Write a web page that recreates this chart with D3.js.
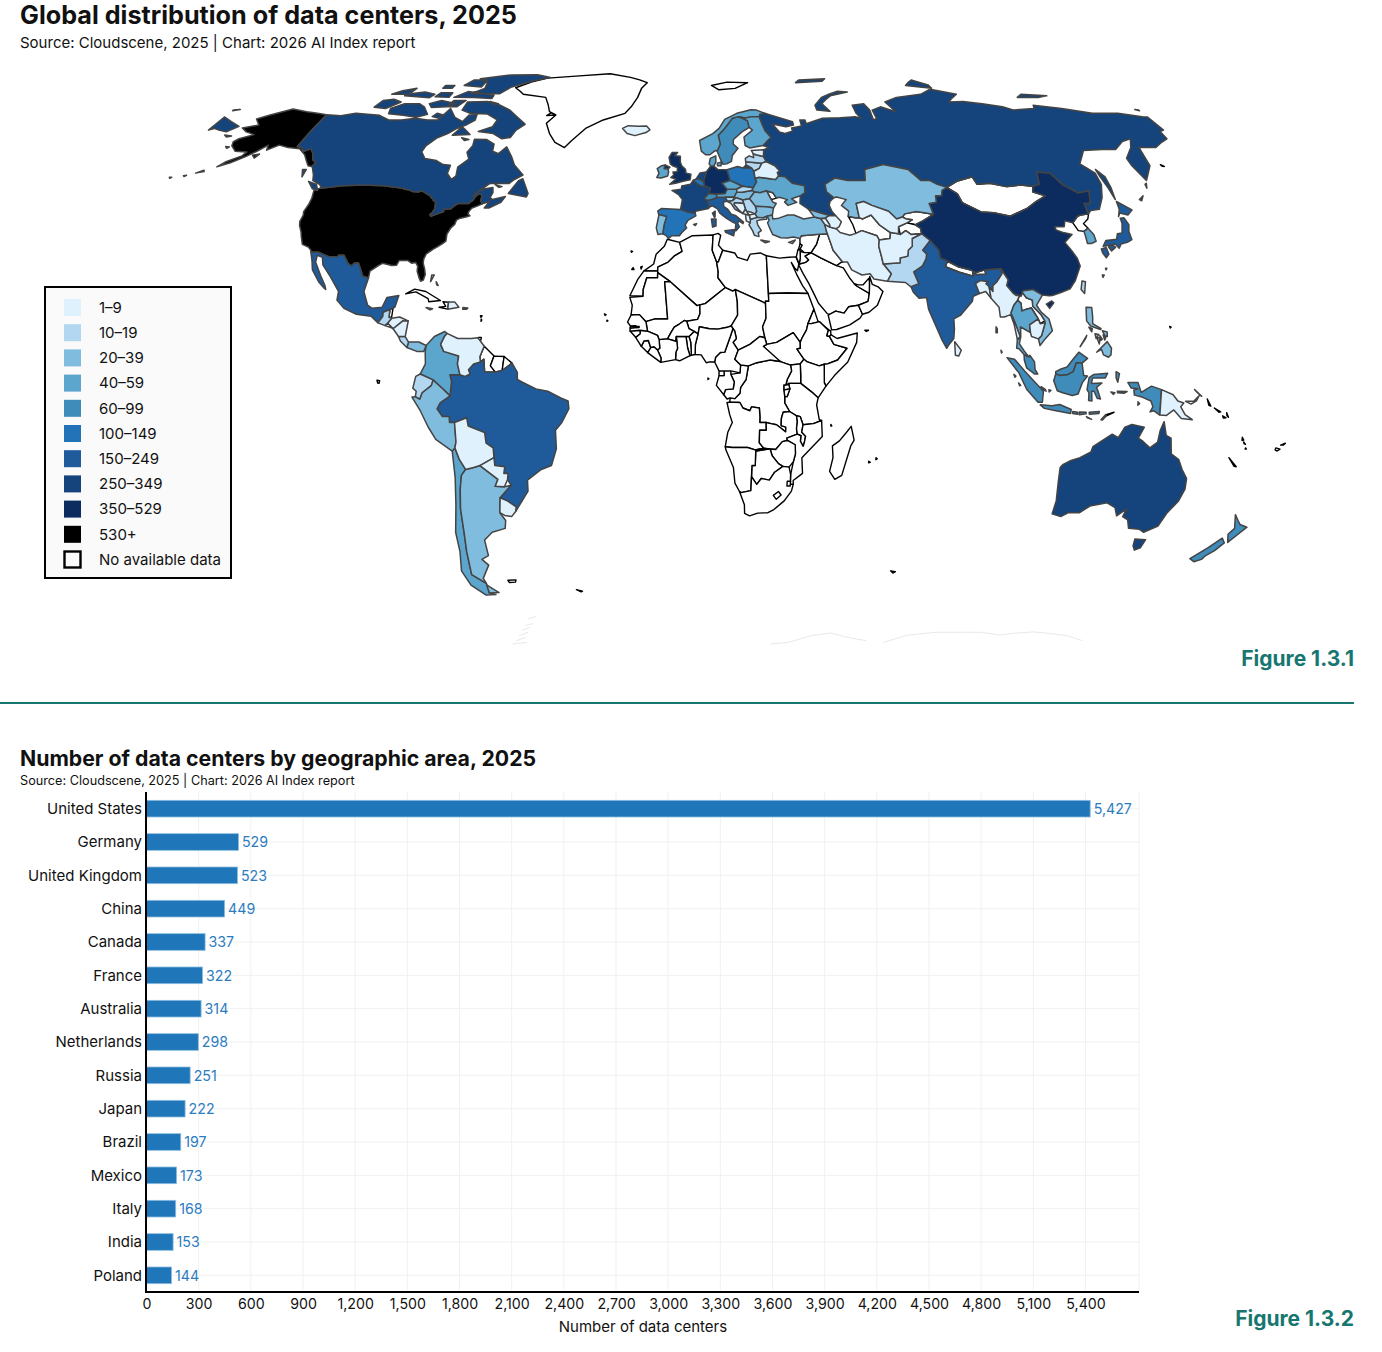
<!DOCTYPE html>
<html><head><meta charset="utf-8">
<script src="https://cdn.jsdelivr.net/npm/d3@7"></script>
<style>html,body{margin:0;padding:0;background:#fff}svg{display:block}text{font-family:Inter,"Noto Sans",sans-serif;fill:#111}</style>
</head><body><svg id="c" width="1382" height="1352"></svg>
<script>
// ---------- bar chart data ----------
const barCategories=["United States","Germany","United Kingdom","China","Canada","France","Australia","Netherlands","Russia","Japan","Brazil","Mexico","Italy","India","Poland"];
const barValues=[5427,529,523,449,337,322,314,298,251,222,197,173,168,153,144];
const xTicks=[0,300,600,900,1200,1500,1800,2100,2400,2700,3000,3300,3600,3900,4200,4500,4800,5100,5400];
// ---------- legend ----------
const binLabels=["1–9","10–19","20–39","40–59","60–99","100–149","150–249","250–349","350–529","530+"];
const binColors=["#dff1fd","#b4d7f1","#80bcde","#5ca6ce","#3f8bb9","#2273b8","#1f5a9a","#15447c","#0c2c5f","#000000"];
const noDataLabel="No available data";
// ---------- countries: [name, bin index (-1 = no data), lon,lat rings...] ----------
const noData=[
["Greenland",-1,"-73,78.2 -68,76 -58,75 -54,70.5 -51,69.5 -53.5,67 -51,64 -48,61.5 -44,60 -42,62 -38,65.5 -32,68 -24,70 -22,72 -20,75 -19,78 -17,80 -25,82 -35,83.5 -50,82.5 -62,81.7 -68,80.2","-54.5,69.3 -51.5,69.5 -53,70.2"],
["Svalbard",-1,"14,77.5 21,78 27,80 18,80.2 11,79"],
["Morocco",-1,"-5.9,35.8 -2,35 -1.2,32.7 -3.7,31.5 -5.5,30 -8.7,28.7 -8.7,27.7 -13,27.7 -10,29.5 -9.3,32 -6.8,34"],
["W Sahara",-1,"-13,27.7 -14.8,25.5 -17,21.4 -13,21.3 -13,23 -12,26 -8.7,26 -8.7,27.7"],
["Algeria",-1,"-2,35 2,36.7 8.6,36.9 8.2,33 9.5,30 9.9,27.5 9.8,26 12,23.5 5.8,19.4 4.2,19.1 3.3,18.9 -4.8,25 -8.7,27.3 -8.7,28.7 -5.5,30 -3.7,31.5 -1.2,32.7"],
["Tunisia",-1,"8.6,36.9 10.2,37.3 11,36.8 10.2,34.3 11.5,33 10,30 9.5,30 8.2,33"],
["Libya",-1,"10,30 11.5,33 15.2,32.3 16,31.2 19,30.4 20,32 23.2,32.3 25,31.6 25,22 25,20 24,20 24,19.5 15,23 14.2,22.6 12,23.5 9.8,26 9.9,27.5 9.5,30"],
["Egypt",-1,"25,31.6 29,31 32,31.2 34.2,31.3 34.9,29.5 34.3,27.8 33.5,28.5 32.6,29.9 33.9,27 35.5,24 37,22 25,22"],
["Mauritania",-1,"-17,21 -13,21.3 -13,23 -12,26 -8.7,26 -8.7,27.3 -4.8,25 -6.5,25 -5.5,15.5 -9.3,15.5 -12,14.8 -14,16.6 -16.5,16.5 -16.2,19"],
["Mali",-1,"-4.8,25 3.3,18.9 4.2,19.1 4.2,16.8 3.5,15.4 0.2,14.9 -0.5,15.1 -2,14.2 -3.5,13.4 -4.5,12 -5.5,10.4 -8,10.2 -8.5,11.3 -11.5,12.4 -12,14.8 -9.3,15.5 -5.5,15.5 -6.5,25"],
["Niger",-1,"4.2,19.1 5.8,19.4 12,23.5 14.2,22.6 15,23 15.5,20 15.5,16.5 13.5,13.7 12,13.3 9.5,12.9 7,13 4,13.5 3.6,11.7 2.4,12.3 0.9,13 0.2,14.9 3.5,15.4 4.2,16.8"],
["Chad",-1,"15,23 24,19.5 24,15.7 22.9,13.5 23.5,10.7 22,11 19,9 15.5,7.5 14,9.5 15,10.5 14.5,12.5 13.5,13.7 15.5,16.5 15.5,20"],
["Sudan",-1,"24,20 25,20 25,22 37,22 38.5,18 36.5,14.3 36,12.7 34.5,10.5 34,9.5 32,12 27,9.5 24,9 23.5,10.7 22.9,13.5 24,15.7"],
["South Sudan",-1,"24,9 27,9.5 32,12 34,9.5 34,8 33,7.8 35,5.2 33.9,4 31,3.7 28,4.6 25,5 23,8.5"],
["Eritrea",-1,"36.5,14.3 38.5,18 39.5,15 43,12.5 42.5,12.6 40,14.8 37.5,14.3"],
["Ethiopia",-1,"36,12.7 36.5,14.3 37.5,14.3 40,14.8 42.5,12.6 42,11.2 42.8,11 44,9 47.9,8 45,5 42,4 41,3.9 39.5,3.5 36,4.5 35,5.2 33,7.8 34,8 34,9.5 34.5,10.5"],
["Djibouti",-1,"42.5,12.6 43.2,12.5 43.2,11.5 42.8,11 42,11.2"],
["Somalia",-1,"43.2,11.5 45,10.5 51.1,11.9 50.8,9.5 48,4.5 44,1 41.5,-1.7 41,-0.8 41,3.9 42,4 45,5 47.9,8 44,9 42.8,11"],
["Kenya",-1,"33.9,4 35,5.2 36,4.5 39.5,3.5 41,3.9 41,-0.8 41.5,-1.7 39.2,-4.7 37.7,-3.5 34,-1 34,1"],
["Uganda",-1,"31,3.7 33.9,4 34,1 34,-1 30.5,-1 29.6,-1.4 30,0 31.3,2.2"],
["Tanzania",-1,"30.5,-1 34,-1 37.7,-3.5 39.2,-4.7 38.8,-6.5 39.7,-10.3 40.4,-10.5 38,-11.3 34.9,-11.6 34,-9.5 32.9,-9.3 30.8,-8.2 29.3,-6 29.3,-4.4 30,-4.4 30.8,-2.4 30.5,-1.3"],
["Rwanda",-1,"29,-1.4 30.5,-1.3 30.8,-2.4 29,-2.7"],
["Burundi",-1,"29,-2.7 30.8,-2.4 30,-4.4 29.3,-4.4"],
["DRC",-1,"12.2,-5.9 13,-5.8 13.1,-4.7 14.5,-4.9 16,-3.5 16.2,-2 17.8,0 18.5,3.5 21,4.3 25,5 28,4.6 31,3.7 31.3,2.2 30,0 29.6,-1.4 29,-1.4 29,-2.7 29.3,-4.4 29.3,-6 30.8,-8.2 28.9,-8.4 28.4,-10 28.4,-11.8 29.8,-12.2 29.8,-13.4 28.4,-12.5 27,-11.6 25.3,-11.3 23.9,-11 22,-11 22,-9.5 21.8,-7.3 19.5,-7 19,-8 16.9,-7.3 16,-5.9"],
["Congo",-1,"11.2,-3.9 12.2,-5 13.1,-4.7 14.5,-4.9 16,-3.5 16.2,-2 17.8,0 18.5,3.5 16.2,3.7 16,1.7 13.3,1.3 14.3,-0.6 14,-2.4 11.7,-2.6"],
["Gabon",-1,"9.8,1 11.3,1 11.3,2.2 13.3,2.2 13.3,1.3 14.3,-0.6 14,-2.4 11.7,-2.6 11.2,-3.9 9,-1.5"],
["Eq Guinea",-1,"9.8,1 11.3,1 11.3,2.2 9.8,2.2"],
["Cameroon",-1,"8.5,4.5 9.8,2.2 11.3,2.2 13.3,2.2 16,1.7 16.2,3.7 14.5,5.2 15.5,7.5 14,9.5 15,10.5 14.5,12.5 14,13 13.2,11 11.5,7 10.2,6.9 8.8,5.7"],
["CAR",-1,"14.5,5.2 16.2,3.7 18.5,3.5 21,4.3 25,5 28,4.6 23,8.5 24,9 23.5,10.7 22,11 19,9 15.5,7.5"],
["Nigeria",-1,"2.7,6.4 4.5,6.3 6,4.3 7,4.5 8.5,4.5 8.8,5.7 10.2,6.9 11.5,7 13.2,11 14,13 13.5,13.7 12,13.3 9.5,12.9 7,13 4,13.5 3.6,11.7 2.8,9"],
["Benin",-1,"1.6,6.2 2.7,6.4 2.8,9 3.6,11.7 2.4,12.3 0.9,11 1.4,9.5"],
["Togo",-1,"1.2,6.1 1.6,6.2 1.4,9.5 0.9,11 0,11 0.5,8"],
["Ghana",-1,"-3.1,5.1 -1.9,4.8 1.2,6.1 0.5,8 0,11 -2.9,11 -2.5,8 -3,7"],
["Burkina",-1,"-5.5,10.4 -4.5,12 -3.5,13.4 -2,14.2 -0.5,15.1 0.2,14.9 0.9,13 2.4,12.3 0.9,11 0,11 -2.9,11 -3,9.8"],
["Ivory Coast",-1,"-7.5,4.4 -3.1,5.1 -3,7 -2.5,8 -2.9,11 -3,9.8 -5.5,10.4 -8,10.2 -7.8,8 -8.5,7.6 -7.4,5.5"],
["Liberia",-1,"-11.4,6.9 -7.5,4.4 -7.4,5.5 -8.5,7.6 -9.5,8.4 -10.5,8.2"],
["Sierra Leone",-1,"-13.3,8.5 -11.4,6.9 -10.5,8.2 -11.2,10 -12.5,9.9"],
["Guinea",-1,"-15,10.8 -13.3,8.5 -12.5,9.9 -11.2,10 -10.5,8.2 -9.5,8.4 -8.5,7.6 -7.8,8 -8,10.2 -8.5,11.3 -11.5,12.4 -13.7,12.6 -13.7,11.7"],
["Guinea-Bissau",-1,"-16.7,12.4 -15,10.8 -13.7,11.7 -13.7,12.6"],
["Senegal",-1,"-17.5,14.7 -16.5,16.5 -14,16.6 -12,14.8 -11.5,12.4 -13.7,12.6 -16.7,12.4 -16.7,13.2 -15,13.4 -15,13.8 -16.6,13.7"],
["Gambia",-1,"-16.7,13.2 -14,13.3 -14,13.6 -16.6,13.6"],
["Angola",-1,"12.2,-6 13,-5.8 16,-5.9 16.9,-7.3 19,-8 19.5,-7 21.8,-7.3 22,-9.5 22,-11 23.9,-11 24,-13 22,-13 22,-16.2 23.4,-17.6 20.8,-18 18.5,-17.4 13.9,-17.4 11.8,-17.2 12.5,-13.5 13.8,-11 13,-9"],
["Zambia",-1,"22,-13 24,-13 23.9,-11 25.3,-11.3 27,-11.6 28.4,-12.5 29.8,-13.4 29.8,-12.2 28.4,-11.8 28.4,-10 28.9,-8.4 30.8,-8.2 32.9,-9.3 33.2,-10.8 33,-12.6 33.3,-14 30.2,-15 30.4,-15.6 28.9,-15.9 27,-17.9 25.3,-17.8 23.4,-17.6 22,-16.2"],
["Malawi",-1,"32.9,-9.3 34,-9.5 34.9,-11.6 34.6,-13.5 35.8,-14.5 35.5,-16.2 35.2,-17.1 34.3,-15.8 34.4,-14.4 33.3,-14 33,-12.6 33.2,-10.8"],
["Mozambique",-1,"40.4,-10.5 40.8,-14.6 38,-17.2 35,-20 35.5,-24 32.8,-25.8 32.9,-26.8 32,-26.8 31.9,-24.3 32.5,-21 33,-19 32.8,-16.7 30.4,-15.6 30.2,-15 33.3,-14 34.4,-14.4 34.3,-15.8 35.2,-17.1 35.5,-16.2 35.8,-14.5 34.6,-13.5 34.9,-11.6 38,-11.3"],
["Zimbabwe",-1,"25.3,-17.8 27,-17.9 28.9,-15.9 30.4,-15.6 32.8,-16.7 33,-19 32.5,-21 31.3,-22.4 29.4,-22.2 28,-21.5 26,-19.5"],
["Botswana",-1,"21,-18.3 24.8,-17.8 25.3,-17.8 26,-19.5 28,-21.5 29.4,-22.2 27,-23.7 25.5,-25.7 23,-25.3 21.7,-26.8 20,-24.8 20,-22 21,-22"],
["Namibia",-1,"11.8,-17.2 13.9,-17.4 18.5,-17.4 20.8,-18 23.4,-17.6 24.8,-17.8 21,-18.3 21,-22 20,-22 20,-28.4 17,-28.9 16.5,-28.6 15,-26.5 14.4,-22.5 12,-18"],
["South Africa",-1,"16.5,-28.6 17,-28.9 20,-28.4 20,-24.8 21.7,-26.8 23,-25.3 25.5,-25.7 27,-23.7 29.4,-22.2 31.3,-22.4 31.9,-24.3 32,-26.8 32.9,-26.8 32.5,-28.5 30.5,-31 27.5,-33.2 25.7,-34 22.5,-34.1 20,-34.8 18.4,-34.2 18.2,-32"],
["Lesotho",-1,"27,-29.6 28.5,-28.6 29.4,-29.5 28,-30.6"],
["Swaziland",-1,"31,-26 32,-26 32,-27.2 31,-27.2"],
["Madagascar",-1,"49.3,-12 50.4,-15.5 49.5,-17 47.5,-24.5 45.5,-25.5 43.7,-23.5 44.4,-20 44,-17 46,-15.7 48,-13.5"],
["Saudi Arabia",-1,"34.8,29.3 36,27 37.5,24.5 39,21.5 40,19.5 42.5,16.8 43.2,16.7 45,17.5 47.5,17 49,18.6 52,19 55,20 55.6,22 52,23.9 51.3,24.5 50.2,25.8 48.5,28.5 46.5,29.1 42,31 39,32.4 37,31.5 38,30.5 37,29.9 35,29.5"],
["Yemen",-1,"42.7,16.4 43.5,12.7 45,12.8 49,14 52.2,15.7 53,16.7 52,19 49,18.6 47.5,17 45,17.5 43.2,16.7"],
["Oman",-1,"52,19 53,16.7 55,17.2 57.7,19 59.8,22.5 58.5,23.7 56.8,24.3 56.3,26.3 56,24.8 55.6,22 55,20"],
["UAE",-1,"51.3,24.5 52.5,24.2 54,24.2 56,25.9 56,24.8 55.6,22 52,23.9"],
["Iraq",-1,"44.8,37.2 42.4,37.1 41,34.5 39,32.4 42,31 46.5,29.1 48,29.9 48.5,30 46,33 45.5,35 44.8,37.5"],
["Syria",-1,"36,36 36.6,36.7 42.4,37.1 41,34.5 39,32.4 36.9,32.4 35.7,33.3 35.9,35"],
["Jordan",-1,"35,29.5 37,29.9 38,30.5 37,31.5 39,32.4 36.9,32.4 35.7,32.7 35.5,31"],
["Israel",-1,"34.3,31.3 35,33.1 35.7,33.3 35.5,31 35,29.5"],
["Lebanon",-1,"35.1,33.1 35.9,34.6 36.5,34.3 35.7,33.3"],
["Turkmenistan",-1,"52.5,41.7 54.7,41.3 56,41.3 57,41 60,42 62,39.5 65,37.5 64.5,36 61,35.6 60.5,36.7 56,38 54,37.3 53.5,39.5"],
["Kyrgyzstan",-1,"71,42.3 75,42.9 80.3,42.2 76,40.4 73.5,39.5 71,40 73,40.8 71,41 70,41.5"],
["Tajikistan",-1,"68,39 71,40 73.5,39.5 75,38.6 74.8,37.2 71.5,37 70,38 68,37"],
["Mongolia",-1,"87.8,49.2 92,50.8 98,52 98.5,50 103,50.3 108,49.4 113,49.8 117,49.5 116,48 119.5,47 115.5,45.5 111.5,43.7 105,41.7 100,42.6 96,42.8 91,45.2 90.5,47.5"],
["North Korea",-1,"124.3,40 126.8,41.7 128,42 130.7,42.3 129.7,41 127.6,39.8 128.4,38.6 126.7,37.8 125,38"],
["Nepal",-1,"80,28.8 81,30.2 84,28.8 88,27.9 88.2,27.5 88,26.4 84,27.4"],
["Bhutan",-1,"89,26.8 89,27.3 92,28 92,26.9"],
["Laos",-1,"100.2,20.3 101.1,21.5 102,22.4 103,20.9 104.7,20.3 104.5,18.8 106.7,16.5 107.5,15 106,14.3 105.6,15.5 104,18.3 102.5,18 101,17.5 101.1,19.5"],
["Moldova",-1,"27,48.3 29,47.8 30,46.4 28.2,46"],
["Cuba",-1,"-85,21.9 -82.5,23.1 -79,22.5 -74.2,20.2 -77.7,19.9 -78,20.7 -82,22.4"],
["Haiti",-1,"-74.4,18.5 -71.7,18 -71.7,19.8 -73.4,19.9 -72.4,18.7"],
["Guyana",-1,"-60,8.5 -57,6 -58,3.5 -56.5,1.9 -59.7,1.9 -60,5.2 -61,4.5 -61.2,5.8 -60.7,7"],
["Suriname",-1,"-57,6 -54,5.9 -54.5,2.3 -56.5,1.9 -58,3.5"],
["French Guiana",-1,"-54,5.9 -51.6,4.2 -54.5,2.3"],
["Belize",-1,"-89.1,17.9 -88.2,18.4 -88.3,16 -89.1,15.9"],
["Timor-Leste",-1,"125,-9 127.3,-8.4 125,-9.4"],
["Solomon Is",-1,"154.7,-5 155.9,-6.8 155.3,-6.6","157,-7.3 159,-8.3 158.5,-8.4","159.7,-9.3 160.8,-9.8 160,-9.9","160.8,-8.5 161.5,-9.7 161,-9.3"],
["Vanuatu",-1,"166.6,-14.8 167.2,-15.5 166.7,-15.6","167.3,-16 168,-16.6 167.5,-16.4","168.3,-17.5 168.6,-17.8 168.2,-17.8"],
["New Caledonia",-1,"164,-20 167,-22.3 166.3,-22.2"],
["Fiji",-1,"177.4,-17.5 178.7,-17.8 178,-18.3 177.3,-18","178.6,-16.8 179.9,-16.3 179.4,-16.8"],
["Islands",-1,"-91.6,-0.2 -90.8,-0.3 -91,-1 -91.4,-0.9","-60.8,-51.5 -58,-51.4 -58.4,-52 -60.5,-52.1","-38,-54 -36,-54.4 -36.5,-54.6","68.8,-49 70.5,-49.2 69.8,-49.6","-16.3,28.6 -16,28.1 -16.7,28.1","-14,28.7 -13.5,28.9 -13.8,28.2","-17.2,32.8 -16.7,32.7 -17,32.5","-24.5,16.8 -24,16.6 -24.3,16.4","-23.7,15.2 -23.4,15 -23.7,14.9","6.5,0.4 6.8,0.2 6.5,0","43.2,-11.5 43.5,-11.9 43.2,-11.9","55.3,-20.9 55.8,-21.2 55.3,-21.3","57.4,-20 57.8,-20.3 57.4,-20.5","53.4,12.6 54.5,12.6 53.8,12.3","-61.7,16.3 -61.2,16.3 -61.5,15.9","-61.4,15.5 -61.2,15.2 -61.4,14.9","144.6,13.6 145,13.4 144.7,13.2","166,55.3 166.8,54.8 166,54.9","-61.9,10.8 -61,10.8 -61.1,10.1 -61.9,10.1"]
];
const withData=[
["USA",9,"-124.7,48.4 -123,49 -95.15,49 -94.6,48.7 -93,48.6 -91.5,48.1 -89.6,48 -88.4,48.3 -84.9,46.9 -84.5,46.5 -83.6,46.1 -83.5,45.8 -82.5,45.3 -82.1,43.6 -82.5,42.6 -83.1,42.2 -82.7,41.7 -78.9,42.9 -79.2,43.5 -76.8,43.6 -76.3,44.2 -75,45 -71.5,45 -71.3,45.3 -70.4,45.8 -70,46.7 -69.2,47.45 -68.3,47.35 -67.8,47.05 -67.8,45.7 -67,44.9 -68.5,44.3 -70,43.8 -70.7,43 -70.8,42.3 -70,41.8 -71.2,41.5 -72.9,41.2 -74,40.7 -74.2,39.6 -75.2,38.6 -75.9,37.1 -75.7,35.3 -76.6,34.7 -77.9,33.9 -79.2,33.2 -81,32 -81.4,30.7 -81.3,29.7 -80.5,28.2 -80,26.8 -80.3,25.4 -81.1,25.1 -81.8,26.1 -82.7,27.7 -82.8,28.9 -83.7,29.9 -84.9,29.7 -86.3,30.4 -88.9,30.4 -89.4,29.2 -90.9,29.1 -93.8,29.7 -95,29.1 -97.2,27.7 -97.2,25.95 -99.1,26.4 -100.3,28.3 -101.4,29.8 -102.7,29.7 -103.2,29 -104.5,29.6 -106.5,31.75 -108.2,31.75 -108.2,31.33 -111.07,31.33 -114.8,32.5 -117.1,32.53 -117.3,33 -118.4,33.8 -120.6,34.5 -121.9,36.6 -122.5,37.7 -123.8,39.3 -124.3,40.4 -124.1,42 -124.5,42.9 -124,44.8 -124,46.3","-141,69.6 -141,60.3 -139,60 -137.5,58.9 -135.5,59.7 -133.4,58.4 -131.8,56.6 -130,55.9 -130.5,54.8 -132,55 -134,56.5 -136,58 -139.5,59.7 -144,60 -148,60.7 -151,59.3 -152,60.7 -154,59 -156.5,57.5 -160,55.8 -163.5,54.7 -162,56 -158,57.7 -157.5,58.8 -162,59 -165,60.5 -166,61.7 -165,62.5 -161,63.7 -165,64.5 -168,65.6 -163,66.5 -166.5,68.3 -163,69.5 -156.6,71.3 -150,70.5 -145,70","-154.5,57.9 -152.3,58.2 -153,57.1","-172.4,52.3 -171.5,52.4 -172,52.1","-176.8,51.9 -176,51.9 -176.4,51.6","-169,53 -167,53.8 -166.5,53.4","-171.8,63.6 -168.8,63.3 -170.3,63","-167,60.3 -165.5,60.2 -166,59.8"],
["Germany",8,"6,51 7,53.3 8.6,54.9 9.7,54.9 11,54 14.2,53.9 14.7,52.2 15,51 12.2,50.3 13.8,48.7 13,47.5 10,47.4 7.6,47.6 8.2,49 6.3,49.5 6,50.7"],
["UK",8,"-5.5,50 -3.5,50.3 -1,50.8 1.4,51.2 1.7,52.7 0,53 -0.2,54 -1.5,55 -2,56 -2,57.6 -4,57.7 -3,58.6 -5,58.6 -6,57.3 -5.5,55.5 -4.5,54.9 -3,54.5 -3,53.4 -4.5,53.3 -4.2,52.5 -5.2,51.8 -3.5,51.4","-7.3,55.2 -5.6,54.6 -6.2,54.1 -7.6,54.2"],
["China",8,"73.6,39.4 75,38.6 74.8,37.2 77,35.5 79,33 79,31 81,30.2 84,28.8 88,27.9 89,27.3 92,28 97,28.3 98.5,25.5 97.7,24 99.3,22 101.5,21.3 102.5,22.7 105.5,23 108,21.6 110,21.4 111,21.5 114,22.3 116.8,23.2 119,25.3 121.7,29 121.5,31 120.5,33 119.3,35 122.5,37 120,37.5 118,38.2 118,39 121,39 122,40.5 124.3,40 126.8,41.7 128,42 130.7,42.3 131,45 133,45 135,48.3 131,47.8 127.5,49.8 125.5,53 121,53.3 119.5,50 117,49.5 116,48 119.5,47 115.5,45.5 111.5,43.7 105,41.7 100,42.6 96,42.8 91,45.2 90.5,47.5 87.8,49.2 85.8,48.4 85,47 83,47 82.5,45.3 80,45 80.3,42.2 76,40.4 73.5,39.5","108.7,19.3 110.5,20.1 111,19.6 109.5,18.2"],
["Canada",7,"-141,69.6 -135,69.3 -130,70 -125,69.7 -120,69.4 -115,68 -110,68 -105,68.5 -100,68 -96,68 -94,71.5 -90,68.8 -86,67.5 -85,69.5 -82,69.7 -81.5,68 -84,66.5 -87,65.3 -89,64 -92,62.8 -94.5,60.5 -94.8,58.8 -92.5,57 -88,56.4 -85,55.3 -82.3,55.1 -82.2,52.9 -80,51.3 -78.9,52.2 -79.5,54.6 -76.8,56.8 -78.5,58.7 -77.5,60.5 -78,62.4 -73.5,62.3 -70,61 -69.5,59 -67,58.3 -65,60.2 -62,57.5 -60,55.2 -56,52.5 -58.5,51.3 -60,50.2 -66.5,50.2 -69,48.5 -71,46.9 -68.5,48.7 -65,49.2 -64.5,47.8 -65,46.5 -64,46 -60,46.8 -61,45.3 -64.5,43.8 -66,43.8 -64.8,45.5 -67,44.9 -67.8,45.7 -67.8,47.05 -68.3,47.35 -69.2,47.45 -70,46.7 -70.4,45.8 -71.3,45.3 -71.5,45 -75,45 -76.3,44.2 -76.8,43.6 -79.2,43.5 -78.9,42.9 -82.7,41.7 -83.1,42.2 -82.5,42.6 -82.1,43.6 -82.5,45.3 -83.5,45.8 -83.6,46.1 -84.5,46.5 -84.9,46.9 -88.4,48.3 -89.6,48 -91.5,48.1 -93,48.6 -94.6,48.7 -95.15,49 -123,49 -122.8,49.2 -124,50 -127,51 -128,52.5 -130,54.5 -130.5,54.8 -130,55.9 -131.8,56.6 -133.4,58.4 -135.5,59.7 -137.5,58.9 -139,60 -141,60.3","-61.5,66.7 -64,65 -65,62.9 -68,62.5 -72,64 -78,64.6 -73.5,66 -73,68 -78,69.8 -85,70 -89,71 -89,73.5 -81,73.7 -76,72.8 -70,71 -67,69.5 -62,67","-117,69.9 -105,68.8 -101.5,69.7 -105,72 -108,73 -114,73 -118,71.5","-125,71.9 -120,71.5 -116,73.5 -120,74.4 -124,74","-90,76.3 -78,76.2 -75,78.5 -68,80.5 -61,82 -68,83.1 -80,83 -92,81.5 -87,80 -86,78","-96,75 -80,74.6 -80,75.7 -92,76.9","-117,75.5 -106,74.9 -105,76 -110,76.8 -117,76","-96,79 -88,78.5 -88,81 -94,81","-102,71.8 -96,72 -93,73 -100,74 -104,73","-87,63.5 -80.5,63.7 -83,65 -85,66","-59.3,47.6 -53,46.7 -52.7,47.6 -55.7,51.5 -57,51","-128.3,50.8 -125,50 -123.5,48.4 -125.5,48.8","-133,54 -131.7,54 -131.5,52","-64.5,49.9 -62,49.4 -63,49.2","-123,76 -116,76 -115,78 -120,77.2","-96,72 -92,72 -90,74 -95,74","-104,75.2 -98,75 -98,76.5 -103,76.5","-104,78 -100,78 -100,79 -104,79","-99,69 -96,68.5 -95,69.5 -98,70","-83,62.8 -80,62.3 -81.5,62","-80,73.7 -76,73 -78,72.8"],
["France",7,"-1.8,43.4 -1.2,46 -2.5,47.3 -4.7,48.4 -1.6,48.7 -1.4,49.6 1.5,50 2.5,51.1 4,50 5.5,49.5 6.3,49.5 8.2,49 7.6,47.6 6,46.3 7,45.8 7.5,44 7.4,43.7 5,43.3 3.1,43 3,42.4 0.7,42.7","8.6,42.5 9.5,43 9.4,41.5 9.2,41.4"],
["Australia",7,"113.6,-22.5 114,-26 115,-31 115,-34.3 118,-35 120,-34 123.5,-34 126,-32.3 131,-31.5 134,-32.7 135.5,-34.8 137.8,-33 137.5,-35 139.5,-35.8 141,-38 144.5,-38.2 146.4,-39 150,-37.4 151,-34 153,-31 153.6,-28 153,-25.3 150.8,-23 149,-20.5 146.3,-19 145.3,-15 143.7,-14.3 142.5,-10.8 141.7,-13 141.5,-16 139.5,-17.5 137,-15.8 135.5,-15 136.8,-12.2 133,-11.5 131,-12.2 129.5,-14.9 127.5,-14 125,-15.5 122.3,-17.2 122,-18.5 119,-20 116.5,-20.7 114.2,-21.8","144.7,-40.7 148.3,-40.9 148,-43 146.5,-43.6 145.3,-42.5"],
["Netherlands",7,"3.4,51.4 4.8,53 7,53.3 6,51 5.8,50.8 4.5,51.4"],
["Russia",7,"31,70 33,69.5 41,67.5 41,66.5 38,66 33,66.8 35,64.5 37,64 40,64.7 40,65.6 44,66.2 44,68 46,68 46,66.9 53,68.5 60,68.7 66,69 68,68.5 67,70 67,72.5 72,73 73,71 72.5,68 74,68.5 74,71 78,72 83,70.5 81,73.5 87,75 98,76 104,77.7 113,76 107,73.5 113,73.7 120,73 127,72 130,71 139,71.5 140,72.5 150,71.5 160,70 170,70 178,69 179.9,68.9 179.9,65 178,64.6 177.5,62.5 170,60 164,60 163,57.8 162,55 158,52 156.7,51 155.7,55 156,57 161,60 164,62.5 160,61.7 155,59.5 150,59.5 143,59.2 138,55.5 141,53 140.5,50 138,46.5 135,43.5 132,43.2 130.7,42.3 131,45 133,45 135,48.3 131,47.8 127.5,49.8 125.5,53 121,53.3 119.5,50 117,49.5 113,49.8 108,49.4 103,50.3 98.5,50 98,52 92,50.8 87.8,49.2 85,50 83,51 80,51 77,54 71,55 69,55.3 62,54 61,51 55,51 51,51.7 47,50 47,48 49,46.5 47.5,45.5 47,44.5 47.5,43 48.5,41.8 46.5,41.9 43.5,42.6 40,43.5 37.5,45 38,47 39.7,47.8 40,49.6 36,50.3 34,52 31.7,52.2 31.5,53.2 32.5,53.5 31,55 28.2,56.1 27.5,57.5 28,59.4 30,60 28,60.6 30,62 31.5,62.9 29.7,64.8 29,67 28.5,69 29,69.7","-179.9,68.9 -175,67.5 -170,66.1 -172.5,64.5 -176,65 -178.5,65.5 -179.9,65","52,71 57,70.6 55,73 60,75.5 68,76.8 64,77 56,75 52,72.5","48,80 60,80.5 62,81.5 50,81","95,79 105,78 105,79.2 100,81","137,75 146,75 150,75.5 140,76","142,54 143.5,52 143,49 142,46 142,49 141.8,52","19.8,54.4 22.8,54.4 21,55.2","-179.9,71 -177.5,71.2 -179.9,70.8","179.9,71 178.7,71.2 179.9,70.8","150,46 152,47 150.5,45.7","155,49 156,50.3 155.3,50"],
["Japan",6,"130.9,34 132.5,35.5 136,35.8 137,37.2 138.6,37.4 140,39.8 140.3,41.2 141.5,41.3 142,39.5 141,37.8 140.8,35.7 139,35 136.8,34.6 135.7,33.5 135,34.6 132.5,34.2","140,41.6 141,42.5 143.3,42 145.5,43.3 144.5,44 142,45.5 141.5,43.5","130,33.3 131.7,33.7 131.8,32 130.6,31.1 130,32.3","132.5,33.8 134,34.3 134.7,33.8 133,32.8","127.7,26.7 128.3,26.7 127.7,26.1","129.3,28.4 129.7,28.4 129.3,28"],
["Brazil",6,"-51.6,4.2 -50,1.8 -50,0 -48.5,-0.7 -44.5,-2.4 -41,-3 -37,-4.8 -35,-5.5 -34.8,-7.5 -37,-11 -39,-13 -39,-17.7 -40.8,-22 -44,-23 -48.5,-25.7 -48.7,-28.5 -52,-32.2 -53.4,-33.7 -53,-32.5 -55.5,-31 -57.6,-30.2 -53.7,-27 -54.6,-25.6 -54.2,-24 -55.5,-24 -55,-22.3 -58,-22 -58,-20 -58,-17.5 -60,-16.3 -60.2,-13.6 -65,-11.9 -65.3,-9.8 -69,-11 -70.5,-11 -70.5,-9.5 -72.5,-9.5 -74,-7.5 -73,-6 -70,-4.2 -69.5,-0.5 -70,1.2 -67,1.2 -65.5,0.8 -64,1.4 -64.5,2.5 -63,4 -61,4.5 -60,5.2 -59.7,1.9 -56.5,1.9 -54.5,2.3"],
["Mexico",6,"-117.1,32.53 -114.8,32.5 -111.07,31.33 -108.2,31.33 -108.2,31.75 -106.5,31.75 -104.5,29.6 -103.2,29 -102.7,29.7 -101.4,29.8 -100.3,28.3 -99.1,26.4 -97.2,25.95 -97.8,22.5 -96,19 -94.5,18.2 -91.5,18.5 -90.5,21 -87,21.5 -87.7,18.5 -89.1,17.9 -91,17.2 -91,16.1 -92.2,14.5 -94.5,16.2 -99,16.7 -103,18.2 -105.5,20.3 -105.5,22.5 -109.4,26.7 -112.2,29.3 -113,31.2 -114.8,31.7 -114.7,30 -112,26.5 -110,24 -109.5,23 -110.3,23.5 -112.2,25 -115,28 -116,30.5"],
["Italy",6,"7,45.8 8.5,46 10.4,46.6 13,46.6 13.7,45.6 12.3,45.3 12.4,44.2 13.6,43.5 14.7,42.2 16,41.9 18.5,40.2 18.3,39.8 17,40.5 16.6,39.9 17.1,39 16,38 15.7,38 16,39.8 15,40.2 13,41.2 11,42.5 10.3,43.6 8.7,44.4 7.5,44","12.4,38 15.6,38.3 15.1,36.7 12.6,37.6","8.2,41 9.7,41 9.6,39.2 8.5,38.9"],
["India",6,"68.5,23.7 71,24.5 70,27.5 73,29 74.5,30.8 75,32 74,33 77,35.5 79,33 79,31 81,30.2 80,28.8 84,27.4 88,26.4 88.2,27.5 89,26.8 92,26.9 92,28 97,28.3 97,27 95,25 93.5,24 93.2,22.5 92.3,23.7 91.5,24.5 92.3,25 89.9,25.3 88.3,24.5 89,22 87,21.3 86.5,20 82.5,16.5 80.3,15.5 80.2,13 79.8,10.5 78.2,8.9 77.5,8 76.3,10 74.8,13.5 73,18 72.8,21 70.5,20.8 69,22.3","92.7,13.5 93,13 92.9,12 92.5,12","93.6,7.5 93.9,7 93.7,6.8"],
["Poland",5,"14.2,53.9 18,54.8 19.8,54.4 22.8,54.4 23.5,53.5 23.6,51.6 24,50.7 22.6,49.1 19,49.5 17,50.3 15,51 14.7,52.2"],
["Spain",5,"-9.2,43 -8,43.7 -1.8,43.4 0.7,42.7 3,42.4 3.2,41.8 0.7,40.7 -0.3,39.4 0.2,38.7 -1.3,37.5 -2.1,36.7 -4.5,36.7 -5.5,36 -6.4,36.8 -7.4,37.2 -7,39.6 -6.3,41.6 -8.2,42 -8.8,42","2.4,39.6 3.4,39.8 3,39.3"],
["Belgium",5,"2.5,51.1 3.4,51.4 4.5,51.4 5.8,50.8 6,50.5 6.3,49.5 5.5,49.5 4,50"],
["Sweden",4,"11.2,59 12.5,56 13,55.4 14.3,55.5 16,56.2 16.5,57.8 18.8,59.8 17.2,61 17.5,62.3 21,64.5 24,65.8 23.7,67.8 20.5,69 18,68.5 15.5,66.3 14,65 12,63.5 12.5,61"],
["Switzerland",4,"6,46.3 7.6,47.6 10,47.4 10.4,46.6 8.5,46 7,45.8"],
["Malaysia",4,"100.4,6.4 101.8,5.8 102.1,6.2 103.4,4.5 103.5,2.6 104.3,1.4 103.4,1.4 101,3 100.4,5","109.6,2 111.2,2.7 113,3.2 115,5.3 116.7,7 119.2,5.4 117.5,4.2 115.8,4.3 114.8,2 113,1.2 111,1 109.6,1.4"],
["Indonesia",4,"95.3,5.6 97.5,5.2 100.4,2.2 103.8,-1 106,-3 105.8,-5.8 104.5,-5.8 101,-2.5 98.7,1.7","105.2,-6.5 108.7,-6.7 111,-6.4 114.5,-7.7 114.4,-8.7 110,-8 106.5,-7.4","109.6,1.4 111,1 113,1.2 114.8,2 115.8,4.3 117.5,4.2 117.9,1 119,0.9 117.5,-0.8 116.3,-3.7 114.6,-4.1 111.7,-3.4 110.1,-2.9 109,-0.3","119.5,0.5 120.9,1.3 125,1.6 124.3,0.4 120.5,0.4 120.2,-1 123.3,-0.9 121.7,-2 122.3,-3.3 123,-5 122,-4.8 121,-3 120.3,-3 120.5,-5.5 119.5,-5.4 119.5,-3.4 118.9,-2.6","131,-0.8 134,-0.8 135,-3.3 138,-1.7 141,-2.6 141,-9.1 139,-8 138,-8.3 138.7,-7 138,-5.5 135,-4.4 133,-4 132.8,-2.7 134,-2.4 132,-2.2","115,-8.2 116.5,-8.4 116.5,-8.9 115,-8.7","117,-8.3 119,-8.4 119,-8.8 117,-9","119.9,-8.4 122.9,-8.2 122.8,-8.7 120,-8.9","123.6,-10.3 124.9,-9 125,-9.4 124,-10.4","127.9,-3 130.8,-3.1 130,-3.5 128,-3.4","127.5,2 128.5,1.5 128,-0.7 127.5,0.4","126,-3.2 127.2,-3.4 126.8,-3.8","119.2,-9.5 120.8,-10.2 119.5,-9.8","105.3,-1.8 106.5,-2.5 106.8,-3 105.8,-2.5","98.6,-0.9 99.2,-1.5 98.9,-1.6","97.2,1.3 97.8,0.9 97.5,0.6","107.6,-2.6 108.2,-2.8 107.7,-3.2","134.2,-5.7 134.7,-6.2 134.2,-6.6"],
["New Zealand",4,"172.7,-34.5 174.5,-36 175.8,-37 178.5,-37.7 177,-39.5 175.3,-41.6 173.8,-39.5 174.8,-38","172.7,-40.5 174.3,-41.7 172.8,-43.7 171,-45 170.5,-46 168.5,-46.6 166.5,-45.8 170,-43"],
["Norway",3,"5,62 5.5,59 7,58 8.5,58 10.6,59.2 11.2,59 12.5,61 12,63.5 14,65 15.5,66.3 18,68.5 20.5,69 23,68.6 25.8,69 28.5,69 29,69.7 31,70 28,71 25.8,71.1 20,70 15,68.2 12.5,65.5 10,64"],
["Finland",3,"24,65.8 25,65 21.5,63 21.5,60.6 23,59.9 28,60.6 30,62 31.5,62.9 29.7,64.8 29,67 28.5,69 25.8,69 23,68.6 20.5,69 23.7,67.8"],
["Denmark",3,"8.1,55.5 8.6,57 10.6,57.7 10.5,56 9.7,54.9 8.6,54.9","11,55.7 12.6,56 12.2,55 11,55"],
["Ireland",3,"-10,54.2 -8.5,55 -7.3,55.2 -7.6,54.2 -6.2,54.1 -6,53.2 -6.3,52.2 -8.5,51.7 -10,51.8 -9.3,53"],
["Austria",3,"10,47.4 13,47.5 13.8,48.7 17,48.7 17,47 16,46.7 13,46.6 10.4,46.6"],
["Czechia",3,"12.2,50.3 15,51 17,50.3 19,49.5 17,48.7 13.8,48.7"],
["Ukraine",3,"22.6,49.1 24,50.7 23.6,51.6 25,51.9 30.5,51.3 31.7,52.2 34,52 36,50.3 40,49.6 39.7,47.8 38,47 35,46.2 36.5,45.3 33.5,44.5 32.5,45.4 33.5,46 31,46.6 30,46.4 29,47.8 27,48.3 24.8,47.8 22.9,48 22,48.4"],
["Colombia",3,"-77.3,8.7 -75,11 -72,12.3 -71.3,11.8 -72,11 -73,9 -72,7.2 -67.5,6 -67.8,4 -67,1.2 -70,1.2 -69.5,-0.5 -70,-4.2 -72,-2.5 -75,-0.1 -78.8,1.4 -77.3,4 -77.5,7.2"],
["Chile",3,"-70.4,-18.3 -69.5,-17.5 -68.5,-20.5 -67,-23 -68.5,-24.5 -69.5,-28 -70.5,-33 -71,-39 -71.8,-44 -72.5,-50 -68.5,-52.3 -68.6,-54.9 -66.5,-55.3 -70,-55.5 -74,-52.8 -75.5,-49 -74,-44 -73.7,-39 -71.7,-32 -70.5,-25"],
["Thailand",3,"100.2,20.3 101.1,19.5 101,17.5 102.5,18 104,18.3 105.6,15.5 102.8,14 102.8,12 100.9,13 100,13.5 99.8,11 99.2,9.2 100.5,7.3 101.8,5.8 100.4,6.4 99,7.9 98.3,8 98.7,10.2 99.6,11 98.5,14.5 97.6,17 98.8,19"],
["South Korea",3,"126.7,37.8 128.4,38.6 129.4,37 129.3,35.3 127.5,34.7 126.3,34.7 126.6,36.7"],
["Portugal",2,"-8.8,42 -8.2,42 -6.3,41.6 -7,39.6 -7.4,37.2 -8.9,37 -9.5,38.7"],
["Hungary",2,"16,46.7 17,48 18.7,47.9 22,48.4 22.9,48 21,46.2 18.8,45.9 16.6,46.5"],
["Romania",2,"22.9,48 24.8,47.8 27,48.3 28.2,46 28.7,45.3 29.7,45 28.6,43.8 27,44.1 22.7,44.3 21,46.2"],
["Bulgaria",2,"22.7,44.3 27,44.1 28.6,43.8 28,42 26.3,41.7 25,41.3 23,41.4 22.4,42.3 23,43"],
["Turkey",2,"26.2,40 26.8,38.5 27.5,37 30,36.2 32,36.1 34,36.4 36,36 36.6,36.7 42.4,37.1 44.8,37.2 44.5,39.6 43.5,41.1 41.5,41.5 38,41 35,42 33,42 30,41.2 28,41 28,42 26.3,41.7 26.8,40.7"],
["Kazakhstan",2,"47,50 51,51.7 55,51 61,51 62,54 69,55.3 71,55 77,54 80,51 83,51 85,50 87.8,49.2 85.8,48.4 85,47 83,47 82.5,45.3 80,45 80.3,42.2 75,42.9 71,42.3 70,41.5 68,41 66,43 61,44.5 58.6,45.5 56,45 56,41.3 54.7,41.3 52.5,41.7 53,43 51,44.5 53,46 50,46.7 49,46.5 47,48"],
["Georgia",2,"40,43.5 43.5,42.6 46.5,41.9 45,41.2 43.5,41.1 41.5,41.5"],
["Peru",2,"-81.3,-4.5 -80.3,-4.4 -79,-5 -78.3,-3.4 -75.5,-1.5 -75,-0.1 -72,-2.5 -70,-4.2 -73,-6 -74,-7.5 -72.5,-9.5 -70.5,-9.5 -70.5,-11 -69,-11 -69,-16 -69.5,-17.5 -70.4,-18.3 -75,-15.3 -77,-12.1 -79,-8"],
["Argentina",2,"-67,-23 -64.5,-22.5 -62.5,-22 -57.5,-25.5 -58.6,-27.3 -55.8,-27.4 -53.7,-27 -57.6,-30.2 -58.4,-34 -57,-36 -57.6,-38 -62,-39 -65,-41 -65,-45 -67.5,-46 -65.8,-47.5 -69,-51 -68.5,-52.3 -72.5,-50 -71.8,-44 -71,-39 -70.5,-33 -69.5,-28 -68.5,-24.5","-68.6,-52.7 -65.2,-54.8 -68.6,-54.9"],
["Panama",2,"-83,8.2 -80,7.2 -77.9,7.2 -77.3,8.7 -79.5,9.6 -82.6,9.6"],
["Vietnam",2,"102.5,22.7 105.5,23 108,21.6 105.7,19 106.7,17.3 108.8,15.5 109.4,12.5 107,10.4 105.3,8.7 105,10.4 106,11.2 107.5,14.5 107.5,15 106.7,16.5 104.5,18.8 104.7,20.3 103,20.9 102,22.4"],
["Philippines",2,"120.5,18.5 122.2,18.4 122,16 121.7,14.3 124,13 123.8,12.8 121,13.7 120,15","122,7 125.4,9.7 126.5,8 126.2,6.3 125.4,5.7 124,6.3 123.5,7.7","117.2,8.4 119.5,11.3 119,10.4","124.3,12.5 125.7,12.2 125.6,11 124.9,11.2","122,11.7 123.1,11.5 122.2,10.5","122.5,10.5 123.4,10.8 123,9.1","120.4,13.4 121.4,13 121.1,12.2","124.4,11.4 125.1,10.7 124.7,10.1","123.4,11.2 124,10.3 123.5,10"],
["Lithuania",1,"21,56.1 21,55.2 22.8,54.4 23.5,53.5 25.5,54.3 26.6,55.7"],
["Latvia",1,"21,57 21,56.1 26.6,55.7 28.2,56.1 27.5,57.5 25,58 24,58.3 24,57.2 22.5,57.7"],
["Slovakia",1,"17,48.7 19,49.5 22.6,49.1 22,48.4 18.7,47.9 17,48"],
["Slovenia",1,"13.7,45.6 13,46.6 16,46.7 15.4,45.7"],
["Croatia",1,"13.7,45.5 15.4,45.7 16.6,46.5 18.8,45.9 19,45 16,45.2 15.8,44.7 17.6,43 18.5,42.4 16,43.5 14.8,45"],
["Serbia",1,"19,45 18.8,45.9 21,46.2 22.7,44.3 23,43 22.4,42.3 21,42.8 19.7,43 19.4,43.5"],
["Greece",1,"20.6,40 20.8,40.9 23,41.4 25,41.3 26.3,41.7 26,40.9 24,40.8 22.8,40.5 23,39.5 24,38 23,37.5 23.1,36.5 22.5,36.6 21.7,36.8 21.2,38 20.2,39.5","23.6,35.6 26.3,35.2 25,34.9"],
["Cyprus",1,"32.3,35 34.5,35.6 33.5,34.7"],
["Pakistan",1,"61,29.5 66.3,29.8 66.5,31 69,31.5 69.5,33 71,34 71.5,36 74.8,37.2 77,35.5 74,33 75,32 74.5,30.8 73,29 70,27.5 71,24.5 68.5,23.7 67,24.8 61.5,25.1 63,27"],
["Ecuador",1,"-80.1,0.8 -78.8,1.4 -75,-0.1 -75.5,-1.5 -78.3,-3.4 -79,-5 -80.3,-4.4 -80,-3 -81,-2.2"],
["Guatemala",1,"-92.2,14.5 -90,13.8 -89.3,14.4 -88.2,15.7 -89.1,15.9 -89.1,17.9 -91,17.2 -91,16.1"],
["Costa Rica",1,"-85.7,11 -85,9.8 -83,8.2 -82.6,9.6 -83.7,11"],
["Taiwan",1,"121,25.2 122,25 120.9,22 120.1,23"],
["Bahamas",1,"-78,26.7 -77.2,26.7 -78,25","-76.3,25 -75.5,24 -76,24.2"],
["Estonia",0,"23.5,59.2 28,59.4 27.5,57.5 25,58 24,58.3"],
["Belarus",0,"23.5,53.5 25.5,54.3 26.6,55.7 28.2,56.1 31,55 32.5,53.5 31.5,53.2 31.7,52.2 30.5,51.3 25,51.9 23.6,51.6"],
["Bosnia",0,"16,45.2 19,45 19.4,43.5 18.5,42.4 17.6,43 15.8,44.7"],
["Albania",0,"19.3,42.2 20.5,42 20.8,40.9 20.6,40 19.4,40.5"],
["North Macedonia",0,"20.5,42 22.4,42.3 23,41.4 20.8,40.9"],
["Montenegro",0,"18.5,42.4 19.4,43.5 19.7,43 20.5,42 19.3,42.2"],
["Iceland",0,"-24,65.5 -22,64 -19,63.4 -15,64.3 -13.6,65.1 -15,66.2 -18,66.1 -22,66.3"],
["Iran",0,"44.5,39.6 46,38.9 48,38.5 49,37.5 52,36.8 54,37.3 56,38 60.5,36.7 61,35.6 60.5,34 60.8,31.5 61,29.5 63,27 61.5,25.1 57.5,25.7 56.5,27 54,26.7 51,28 50,30 48.5,30 46,33 45.5,35 44.8,37.5"],
["Afghanistan",0,"61,35.6 64.5,36 65,37.5 67.5,37.2 68,37 70,38 71.5,37 74.8,37.2 71.5,36 71,34 69.5,33 69,31.5 66.5,31 66.3,29.8 61,29.5 60.8,31.5 60.5,34"],
["Uzbekistan",0,"56,41.3 56,45 58.6,45.5 61,44.5 66,43 68,41 70,41.5 71,41 73,40.8 71,40 68,39 67.5,37.2 65,37.5 62,39.5 60,42 57,41"],
["Azerbaijan",0,"46.5,41.9 48.5,41.8 50,40.3 49,39 48,38.5 46,38.9 46,39.6 45,41.2"],
["Armenia",0,"43.5,41.1 45,41.2 46,39.6 46,38.9 44.5,39.6"],
["Bangladesh",0,"88.3,24.5 89.9,25.3 92.3,25 91.5,24.5 92.3,23.7 92.3,20.8 91,22.5 89,22"],
["Sri Lanka",0,"80,9.7 81.8,7.5 81,6 80,6.2"],
["Myanmar",0,"92.3,20.8 92.3,23.7 93.2,22.5 93.5,24 95,25 97,27 97,28.3 98.5,25.5 97.7,24 99.3,22 100,21.5 101.1,21.5 100.2,20.3 98.8,19 97.6,17 98.5,14.5 99.6,11 98.7,10.2 98.2,14 97.5,16.6 95.5,16 94.3,16 94.3,18.5"],
["Cambodia",0,"102.8,14 105.6,15.5 106,14.3 107.5,14.5 106,11.2 105,10.4 103,11 102.8,12"],
["Papua New Guinea",0,"141,-2.6 144.5,-3.9 146,-5.5 147.8,-6 147,-7 148.5,-9 150.8,-10.3 147.5,-10 145,-7.8 143,-9.2 141,-9.1","148.3,-5.6 150.8,-5.5 152.2,-4.2 151.5,-5.5 150,-6.3","150.8,-2.6 153,-4.3 152.5,-4"],
["Venezuela",0,"-71.3,11.8 -68,10.5 -64,10.5 -62,10.7 -60,8.5 -60.7,7 -61.2,5.8 -61,4.5 -63,4 -64.5,2.5 -64,1.4 -65.5,0.8 -67,1.2 -67.8,4 -67.5,6 -72,7.2 -73,9 -72,11"],
["Bolivia",0,"-69,-11 -65.3,-9.8 -65,-11.9 -60.2,-13.6 -60,-16.3 -58,-17.5 -58,-20 -62.5,-22 -64.5,-22.5 -67,-23 -68.5,-20.5 -69.5,-17.5 -69,-16"],
["Paraguay",0,"-58,-20 -58,-22 -55,-22.3 -55.5,-24 -54.2,-24 -54.6,-25.6 -55.8,-27.4 -58.6,-27.3 -57.5,-25.5 -62.5,-22"],
["Uruguay",0,"-58.4,-34 -57.6,-30.2 -55.5,-31 -53,-32.5 -53.4,-33.7 -54.9,-35 -57,-34.7"],
["Honduras",0,"-89.3,14.4 -87.5,13 -84.8,15 -83.2,15 -85.9,16 -88.2,15.7"],
["El Salvador",0,"-90,13.8 -87.8,13.2 -87.5,13 -89.3,14.4"],
["Nicaragua",0,"-87.5,13 -85.7,11 -83.7,11 -83.2,15 -84.8,15"],
["Dominican Rep",0,"-71.7,18 -68.4,18.5 -69.8,19.8 -71.7,19.8"],
["Jamaica",0,"-78.3,18.4 -76.3,18.1 -77,17.8"],
["Puerto Rico",0,"-67.2,18.4 -65.7,18.3 -66,18 -67.2,18"]
];
// Antarctic coast traces (very faint in the reference)
const antarctica=[
"33,-69.5 40,-69 48,-67 55,-66.2 62,-67.5 70,-68.5","77,-69 85,-66.8 95,-66 105,-66 112,-66 120,-66.8 126,-66.2 132,-65.9 138,-66.3 146,-67 154,-68.5",
"-60,-64 -57,-63.5","-62,-65.5 -58.5,-64.5","-64,-67 -60,-66","-66,-68.5 -61.5,-67.5","-58,-62 -55,-61.5","-68,-69.5 -62,-69"];

// ---------- scales ----------
const svg=d3.select("#c");
const projection=d3.geoNaturalEarth1().scale(222).translate([686,379.5]).precision(0.3);
const geo=d3.geoPath(projection);
function ring(s){const r=s.trim().split(/\s+/).map(p=>p.split(",").map(Number));r.push(r[0].slice());
  if(d3.geoArea({type:"Polygon",coordinates:[r]})>2*Math.PI)r.reverse();return r;}
function feature(row){return {type:"Feature",properties:{name:row[0],bin:row[1]},geometry:{type:"MultiPolygon",coordinates:row.slice(2).map(s=>[ring(s)])}};}

// ---------- map ----------
const gm=svg.append("g");
gm.selectAll("path.faint").data(antarctica).join("path").attr("class","faint")
  .attr("d",s=>geo({type:"LineString",coordinates:s.split(" ").map(p=>p.split(",").map(Number))}))
  .attr("fill","none").attr("stroke","#e2e2e2").attr("stroke-width",0.8);
gm.selectAll("path.nd").data(noData.map(feature)).join("path").attr("class","nd")
  .attr("d",geo).attr("fill","#fff").attr("stroke","#000").attr("stroke-width",1.4).attr("stroke-linejoin","round");
gm.selectAll("path.cd").data(withData.map(feature)).join("path").attr("class","cd")
  .attr("d",geo).attr("fill",d=>binColors[d.properties.bin]).attr("stroke","#444").attr("stroke-width",1.5).attr("stroke-linejoin","round");

// ---------- titles ----------
svg.append("text").attr("x",20).attr("y",24).attr("font-size",25.2).attr("font-weight",700).attr("fill","#000").text("Global distribution of data centers, 2025");
svg.append("text").attr("x",20).attr("y",48).attr("font-size",15).text("Source: Cloudscene, 2025 | Chart: 2026 AI Index report");
const teal="#17766f";
svg.append("text").attr("x",1354).attr("y",666).attr("text-anchor","end").attr("font-size",21).attr("font-weight",700).style("fill",teal).text("Figure 1.3.1");
svg.append("line").attr("x1",0).attr("x2",1354).attr("y1",703).attr("y2",703).attr("stroke",teal).attr("stroke-width",2);

// ---------- legend ----------
const lg=svg.append("g");
lg.append("rect").attr("x",45).attr("y",287).attr("width",186).attr("height",291).attr("fill","#fafafa").attr("stroke","#000").attr("stroke-width",2);
const rowY=d3.scalePoint().domain(d3.range(11)).range([307.5,559.5]);
lg.selectAll("rect.sw").data(binColors).join("rect").attr("class","sw").attr("x",64).attr("y",(d,i)=>rowY(i)-8.5).attr("width",17).attr("height",17).attr("fill",d=>d);
lg.append("rect").attr("x",64.5).attr("y",rowY(10)-8).attr("width",16).attr("height",16).attr("fill","#fafafa").attr("stroke","#000").attr("stroke-width",2.4);
lg.selectAll("text").data(binLabels.concat([noDataLabel])).join("text").attr("x",99).attr("y",(d,i)=>rowY(i)+5.3).attr("font-size",15).text(d=>d);

// ---------- bars ----------
const x=d3.scaleLinear().domain([0,5400]).range([146.5,1085.5]);
const y=d3.scaleBand().domain(barCategories).range([792,1292]).paddingInner(.5).paddingOuter(.25);
const gg=svg.append("g");
gg.selectAll("line.v").data(xTicks.slice(1).concat([5708])).join("line").attr("class","v").attr("x1",d=>x(d)).attr("x2",d=>x(d)).attr("y1",792).attr("y2",1292).attr("stroke","#f1f1f1");
gg.selectAll("line.h").data(barCategories).join("line").attr("class","h").attr("x1",146).attr("x2",1139).attr("y1",d=>y(d)+y.bandwidth()/2).attr("y2",d=>y(d)+y.bandwidth()/2).attr("stroke","#f1f1f1");
svg.append("g").selectAll("rect").data(barCategories).join("rect").attr("x",x(0)).attr("y",d=>y(d)).attr("height",y.bandwidth()).attr("width",(d,i)=>x(barValues[i])-x(0)).attr("fill","#1f77ba").attr("stroke","#8dbde0").attr("stroke-width",.8);
svg.append("g").selectAll("text").data(barCategories).join("text").attr("x",(d,i)=>x(barValues[i])+3.5).attr("y",d=>y(d)+y.bandwidth()/2+5.4).attr("font-size",14.2).style("fill","#2b7cbf").text((d,i)=>d3.format(",")(barValues[i]));
svg.append("g").selectAll("text").data(barCategories).join("text").attr("x",142).attr("y",d=>y(d)+y.bandwidth()/2+5.4).attr("text-anchor","end").attr("font-size",15).attr("fill","#111").text(d=>d);
const ax=svg.append("g").attr("transform","translate(0,1292)").call(d3.axisBottom(x).tickValues(xTicks).tickFormat(d3.format(",")).tickSize(0).tickPadding(7));
ax.select(".domain").remove();
ax.selectAll("text").attr("font-size",14.2).style("font-family",'Inter,"Noto Sans",sans-serif').attr("fill","#111");
svg.append("line").attr("x1",146).attr("x2",146).attr("y1",792).attr("y2",1293).attr("stroke","#000").attr("stroke-width",2);
svg.append("line").attr("x1",145).attr("x2",1139).attr("y1",1292).attr("y2",1292).attr("stroke","#000").attr("stroke-width",2);
svg.append("text").attr("x",643).attr("y",1332).attr("text-anchor","middle").attr("font-size",15).text("Number of data centers");
svg.append("text").attr("x",20).attr("y",766).attr("font-size",21.25).attr("font-weight",700).attr("fill","#000").text("Number of data centers by geographic area, 2025");
svg.append("text").attr("x",20).attr("y",785).attr("font-size",12.7).text("Source: Cloudscene, 2025 | Chart: 2026 AI Index report");
svg.append("text").attr("x",1354).attr("y",1326).attr("text-anchor","end").attr("font-size",21).attr("font-weight",700).style("fill",teal).text("Figure 1.3.2");
</script></body></html>
